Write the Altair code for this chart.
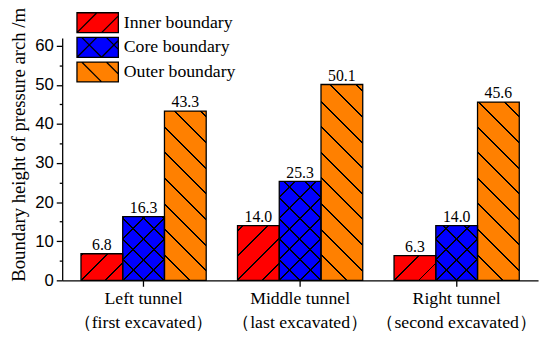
import math
import altair as alt

# ---- data ----
tunnels = ["Left tunnel", "Middle tunnel", "Right tunnel"]
orders = ["（first excavated）", "（last excavated）", "（second excavated）"]
series = ["Inner boundary", "Core boundary", "Outer boundary"]
inner = [6.8, 14.0, 6.3]
core = [16.3, 25.3, 14.0]
outer = [43.3, 50.1, 45.6]
colors = ["#FF0000", "#0000FF", "#FF8000"]

# ---- layout / style ----
W, H = 483, 246
YMAX = 62
PAD_IN, PAD_OUT = 0.2, 0.12
step = W / (len(tunnels) - PAD_IN + 2 * PAD_OUT)
bar_w = step * (1 - PAD_IN) / len(series)
px_per_unit = H / YMAX
CLEAR = "rgba(0,0,0,0)"
LW = 1.4
SYM = 21.0  # legend symbol nominal size (px), swatch drawn larger by path coords

# hatch kinds per series: (first layer, second layer, period px)
hatch_kinds = {
    "Inner boundary": ("/", None, 25),
    "Core boundary": ("/", "\\", 21),
    "Outer boundary": ("\\", None, 26),
}


def hatch_gradient(w, h, period, kind, bg, lw=LW):
    L = w + h
    half = lw * math.sqrt(2) / 2
    a = L / (w * w + h * h)
    if kind == "/":
        x1, y1, x2, y2 = 0, 0, a * w, a * h
        anchor = h
    else:
        x1, y1, x2, y2 = 0, 1, a * w, 1 - a * h
        anchor = 0
    stops = [{"offset": 0, "color": bg}]
    k = math.floor((-half - anchor) / period)
    while True:
        c = anchor + k * period
        if c - half > L:
            break
        t0 = max(0.0, (c - half) / L)
        t1 = min(1.0, (c + half) / L)
        if t1 > 0 and t0 < 1:
            stops += [
                {"offset": t0, "color": bg},
                {"offset": t0, "color": "black"},
                {"offset": t1, "color": "black"},
                {"offset": t1, "color": bg},
            ]
        k += 1
    stops.append({"offset": 1, "color": bg})
    return {"gradient": "linear", "x1": x1, "y1": y1, "x2": x2, "y2": y2, "stops": stops}


def swatch_path(kinds, period=25.0, sw=42.0, sh=20.2):
    s = SYM / 2.0  # px per path unit
    hx = sw / (2 * s)
    hv = sh / (2 * s)
    parts = [f"M{-hx:.4f},{-hv:.4f}H{hx:.4f}V{hv:.4f}H{-hx:.4f}Z"]

    def to_u(X, Y):
        return f"{X / s - hx:.4f},{Y / s - hv:.4f}"

    for kind in kinds:
        if kind is None:
            continue
        for k in range(-6, 8):
            if kind == "/":
                c = sh + k * period  # X + Y = c
                xa, xb = max(0.0, c - sh), min(sw, c)
                if xb - xa > 0.5:
                    parts.append(f"M{to_u(xa, c - xa)}L{to_u(xb, c - xb)}")
            else:
                c = k * period - sh  # X - Y = c
                xa, xb = max(0.0, c), min(sw, c + sh)
                if xb - xa > 0.5:
                    parts.append(f"M{to_u(xa, xa - c)}L{to_u(xb, xb - c)}")
    return " ".join(parts)


values_by_series = {"Inner boundary": inner, "Core boundary": core, "Outer boundary": outer}
color_by_series = dict(zip(series, colors))
labels = [f"{t}|{o}" for t, o in zip(tunnels, orders)]

records = []
for i, lab in enumerate(labels):
    for s in series:
        v = values_by_series[s][i]
        h = v * px_per_unit
        k1, k2, per = hatch_kinds[s]
        g1 = hatch_gradient(bar_w, h, per, k1, color_by_series[s])
        g2 = hatch_gradient(bar_w, h, per, k2, CLEAR) if k2 else CLEAR
        records.append({"tunnel": lab, "series": s, "value": v, "g1": g1, "g2": g2})

data = alt.Data(values=records)
paths = [swatch_path(hatch_kinds[s][:2]) for s in series]

x_enc = alt.X(
    "tunnel:N",
    sort=labels,
    title=None,
    scale=alt.Scale(paddingInner=PAD_IN, paddingOuter=PAD_OUT),
    axis=alt.Axis(
        labelExpr="split(datum.label, '|')",
        labelAngle=0,
        labelFont="Liberation Serif",
        labelFontSize=18,
        labelLineHeight=24,
        labelPadding=4,
        tickSize=6,
    ),
)
xo_enc = alt.XOffset("series:N", sort=series)
y_enc = alt.Y(
    "value:Q",
    scale=alt.Scale(domain=[0, YMAX], nice=False, zero=True),
    title="Boundary height of pressure arch /m",
    axis=alt.Axis(
        values=list(range(0, 61, 5)),
        labelExpr="datum.value % 10 === 0 ? datum.label : ''",
        tickSize={"condition": {"test": "datum.value % 10 === 0", "value": 6}, "value": 3},
        labelFont="Liberation Sans",
        labelFontSize=17,
        labelPadding=3,
        titleFont="Liberation Serif",
        titleFontSize=19,
        titleFontWeight="normal",
        titleX=-34,
        titleY=108,
    ),
)

base = alt.Chart(data)

bars_a = base.mark_bar(strokeWidth=0).encode(
    x=x_enc, xOffset=xo_enc, y=y_enc,
    fill=alt.Fill("g1:N", scale=None, legend=None),
)
bars_b = base.mark_bar(stroke="black", strokeWidth=1.3).encode(
    x=x_enc, xOffset=xo_enc, y=y_enc,
    fill=alt.Fill("g2:N", scale=None, legend=None),
)

leg = alt.Legend(
    title=None,
    orient="none",
    legendX=24.5,
    legendY=-27,
    symbolSize=SYM * SYM,
    symbolStrokeWidth=1.3,
    symbolOpacity=1,
    labelFont="Liberation Serif",
    labelFontSize=18,
    labelColor="black",
    labelOffset=15,
    rowPadding=-4,
    padding=0,
)
legend_pts = base.mark_point(filled=True, opacity=0, strokeWidth=1.3).encode(
    x=x_enc, xOffset=xo_enc, y=y_enc,
    color=alt.Color("series:N", sort=series, scale=alt.Scale(domain=series, range=colors), legend=leg),
    shape=alt.Shape("series:N", sort=series, scale=alt.Scale(domain=series, range=paths), legend=leg),
    stroke=alt.Stroke("series:N", sort=series,
                      scale=alt.Scale(domain=series, range=["black", "black", "black"]), legend=leg),
)

texts = base.mark_text(
    font="Liberation Serif", fontSize=16, dy=-4, baseline="alphabetic", color="black"
).encode(
    x=x_enc, xOffset=xo_enc, y=y_enc,
    text=alt.Text("value:Q", format=".1f"),
)

chart = (
    alt.layer(bars_a, bars_b, legend_pts, texts)
    .properties(
        width=W,
        height=H,
        padding={"left": 55, "top": 28, "right": 4, "bottom": 50},
        autosize=alt.AutoSizeParams(type="none"),
        background="white",
    )
    .configure_view(stroke=None)
    .configure_axis(
        grid=False,
        domainColor="black",
        domainWidth=1.3,
        tickColor="black",
        tickWidth=1.3,
        labelColor="black",
        titleColor="black",
    )
)

chart.save("out.html", embed_options={"renderer": "svg", "actions": False})
